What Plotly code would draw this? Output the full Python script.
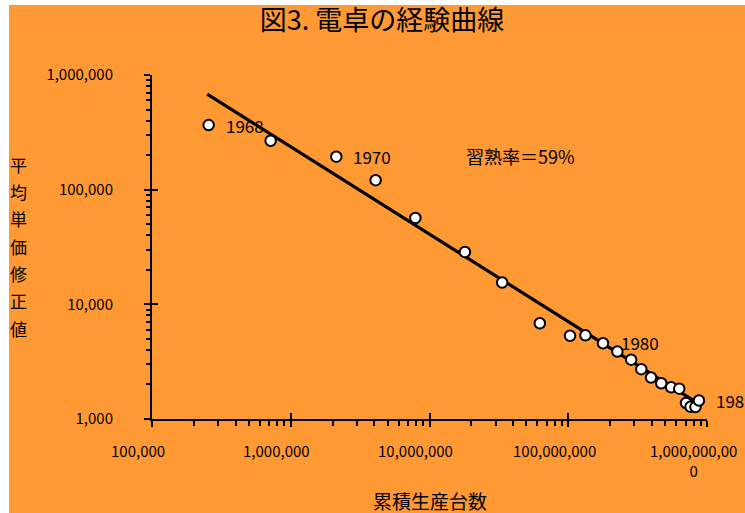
import math
import plotly.graph_objects as go

# Calculator experience curve: cumulative units produced vs. adjusted average unit price
years = list(range(1968, 1990))
cum_units = [2.56e5, 7.16e5, 2.13e6, 4.09e6, 7.91e6, 1.80e7, 3.34e7, 6.24e7,
             1.03e8, 1.33e8, 1.78e8, 2.26e8, 2.84e8, 3.36e8, 3.95e8, 4.68e8,
             5.52e8, 6.31e8, 7.06e8, 7.61e8, 8.26e8, 8.75e8]
avg_price = [3.66e5, 2.67e5, 1.94e5, 1.21e5, 5.66e4, 2.86e4, 1.55e4, 6.84e3,
             5.32e3, 5.37e3, 4.58e3, 3.87e3, 3.29e3, 2.72e3, 2.30e3, 2.05e3,
             1.89e3, 1.84e3, 1.38e3, 1.28e3, 1.27e3, 1.45e3]

# Fitted experience curve (59% learning rate), end points
fit_units = [2.5e5, 8.8e8]
fit_price = [6.8e5, 1.35e3]

x_tick_vals = [1e5, 1e6, 1e7, 1e8, 1e9]
x_tick_text = ["100,000", "1,000,000", "10,000,000", "100,000,000", "1,000,000,00<br>0"]

labeled_years = [1968, 1970, 1980, 1989]

title_text = "図3. 電卓の経験曲線"
x_title = "累積生産台数"
y_title = "平均単価修正値"
rate_text = "習熟率＝59%"

FONT = "Noto Sans CJK JP"
ORANGE = "#FF9933"
W, H = 745, 513
ML, MR, MT, MB = 152, 38, 75, 94
PW, PH = W - ML - MR, H - MT - MB


def px_x(px):
    return (px - ML) / PW


def px_y(py):
    return (H - MB - py) / PH


fig = go.Figure()

fig.add_trace(go.Scatter(
    x=fit_units, y=fit_price, mode="lines",
    line=dict(color="black", width=3.2),
    showlegend=False, hoverinfo="skip",
))
fig.add_trace(go.Scatter(
    x=cum_units, y=avg_price, mode="markers",
    marker=dict(symbol="circle", size=10.5, color="white",
                line=dict(color="black", width=2)),
    showlegend=False,
))
# carrier trace for the overlaid tick axes
fig.add_trace(go.Scatter(x=[None], y=[None], xaxis="x2", yaxis="y2",
                         showlegend=False, hoverinfo="skip"))

annotations = []

# year labels next to selected points
label_offsets = {1968: (15, 0, "left"), 1970: (15, 0, "left"),
                 1980: (-12, 17, "left"), 1989: (15, 0, "left")}
for yr in labeled_years:
    i = years.index(yr)
    dx, dy, anchor = label_offsets[yr]
    annotations.append(dict(
        x=math.log10(cum_units[i]), y=math.log10(avg_price[i]),
        xref="x", yref="y", text=str(yr), showarrow=False,
        xanchor=anchor, yanchor="middle", xshift=dx, yshift=dy,
        font=dict(family=FONT, size=17, color="black"),
    ))

# x tick labels
for v, t in zip(x_tick_vals, x_tick_text):
    annotations.append(dict(
        x=math.log10(v), y=px_y(438), xref="x", yref="paper",
        text=t, showarrow=False, xanchor="center", yanchor="top",
        xshift=-14, font=dict(family=FONT, size=15, color="black"),
    ))

# vertical y-axis title, one character per line
for k, ch in enumerate(y_title):
    annotations.append(dict(
        x=px_x(18.5), y=px_y(164.3 + 27.3 * k), xref="paper", yref="paper",
        text=ch, showarrow=False, xanchor="center", yanchor="middle",
        font=dict(family=FONT, size=17, color="black"),
    ))

annotations.append(dict(
    x=px_x(430), y=px_y(500), xref="paper", yref="paper", text=x_title,
    showarrow=False, xanchor="center", yanchor="middle",
    font=dict(family=FONT, size=19, color="black"),
))
annotations.append(dict(
    x=px_x(520.5), y=px_y(156), xref="paper", yref="paper", text=rate_text,
    showarrow=False, xanchor="center", yanchor="middle",
    font=dict(family=FONT, size=18, color="black"),
))

axis_common = dict(showgrid=False, zeroline=False, color="black")

fig.update_layout(
    width=W, height=H,
    margin=dict(l=ML, r=MR, t=MT, b=MB, pad=0),
    paper_bgcolor="white", plot_bgcolor=ORANGE,
    title=dict(text=title_text, x=382 / W, xref="container", xanchor="center",
               y=1 - 21 / H, yref="container", yanchor="middle",
               font=dict(family=FONT, size=27, color="black")),
    font=dict(family=FONT, color="black"),
    shapes=[dict(type="rect", xref="paper", yref="paper", layer="below",
                 x0=px_x(9), x1=px_x(760), y0=px_y(520), y1=px_y(5),
                 fillcolor=ORANGE, line=dict(width=0))],
    xaxis=dict(type="log", range=[5, 9], tickmode="linear", tick0=0, dtick=1,
               showticklabels=False, ticks="outside", ticklen=6, tickwidth=2,
               tickcolor="black", showline=True, linewidth=2, linecolor="black",
               minor=dict(dtick="D1", ticks="outside", ticklen=5, tickwidth=1.5,
                          tickcolor="black", showgrid=False),
               **axis_common),
    yaxis=dict(type="log", range=[3, 6], tickmode="linear", tick0=0, dtick=1,
               tickformat=",.0f", ticks="outside", ticklen=6, tickwidth=2,
               tickcolor="black", showline=True, linewidth=2, linecolor="black",
               ticklabelstandoff=28,
               tickfont=dict(family=FONT, size=15, color="black"),
               minor=dict(dtick="D1", ticks="outside", ticklen=4.5, tickwidth=1.5,
                          tickcolor="black", showgrid=False),
               **axis_common),
    xaxis2=dict(type="log", range=[5, 9], overlaying="x", anchor="y2", side="bottom",
                tickmode="linear", tick0=0, dtick=1, ticks="inside", ticklen=6,
                tickwidth=2, tickcolor="black", showticklabels=False,
                showline=False, **axis_common),
    yaxis2=dict(type="log", range=[3, 6], overlaying="y", anchor="x2", side="left",
                tickmode="linear", tick0=0, dtick=1, ticks="inside", ticklen=6,
                tickwidth=2, tickcolor="black", showticklabels=False,
                showline=False, **axis_common),
    annotations=annotations,
)

fig.write_html("out.html")
